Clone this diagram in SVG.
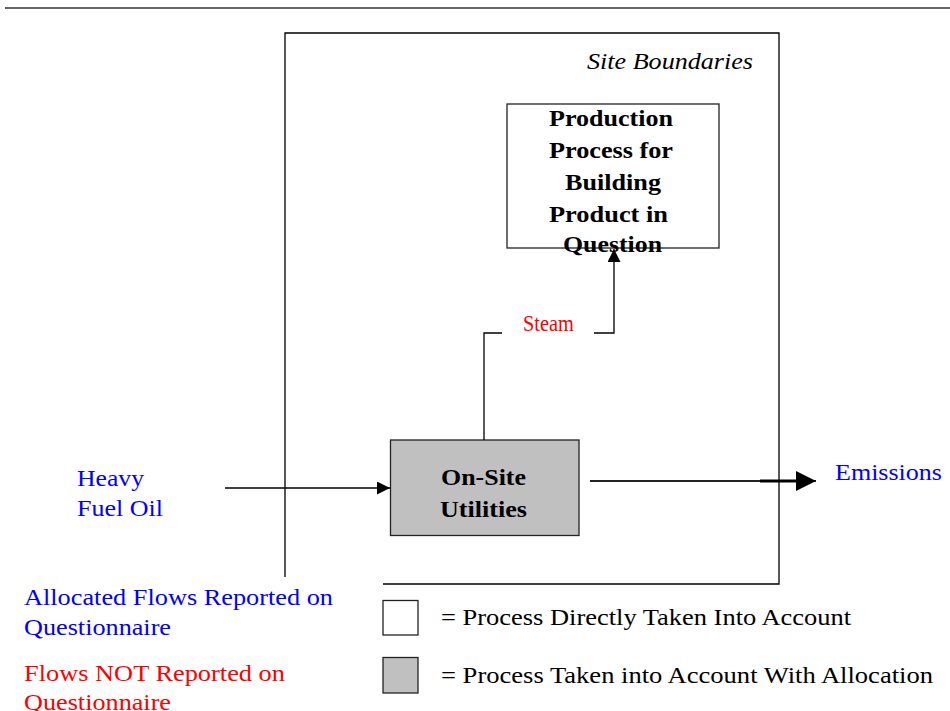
<svg xmlns="http://www.w3.org/2000/svg" width="950" height="711" viewBox="0 0 950 711">
<style>
text{font-family:"Liberation Serif","Times New Roman",serif;font-size:24px}
.b{font-weight:bold;fill:#000}
.blue{fill:#0000ff}
.red{fill:#ff0000}
.blk{fill:#000}
.ln{stroke:#000;stroke-width:1.3;fill:none}
.box{stroke:#222;stroke-width:1.3}
</style>
<defs>
<marker id="ah" viewBox="0 0 10 10" refX="10" refY="5" markerWidth="15" markerHeight="13" markerUnits="userSpaceOnUse" orient="auto"><path d="M0,0 L10,5 L0,10 Z" fill="#000"/></marker>
<marker id="ah2" viewBox="0 0 10 10" refX="10" refY="5" markerWidth="22" markerHeight="20" markerUnits="userSpaceOnUse" orient="auto"><path d="M0,0 L10,5 L0,10 Z" fill="#000"/></marker>
</defs>
<line x1="5" y1="8" x2="950" y2="8" stroke="#333" stroke-width="1.5"/>
<g id="site-boundary">
<path d="M285,577 V33 H779 V584 H383" class="ln"/>
<text x="587" y="69" font-style="italic" class="blk" textLength="166" lengthAdjust="spacingAndGlyphs">Site Boundaries</text>
</g>
<g id="production">
<rect x="507" y="104" width="212" height="144" fill="#fff" class="box"/>
<text class="b" x="549" y="126" textLength="124" lengthAdjust="spacingAndGlyphs">Production</text>
<text class="b" x="549" y="158" textLength="124" lengthAdjust="spacingAndGlyphs">Process for</text>
<text class="b" x="565" y="190" textLength="96" lengthAdjust="spacingAndGlyphs">Building</text>
<text class="b" x="549" y="222" textLength="119" lengthAdjust="spacingAndGlyphs">Product in</text>
<text class="b" x="563" y="252" textLength="99" lengthAdjust="spacingAndGlyphs">Question</text>
</g>
<g id="utilities">
<rect x="390.5" y="440" width="188.5" height="95.5" fill="#c0c0c0" class="box"/>
<text class="b" x="441" y="485" textLength="85" lengthAdjust="spacingAndGlyphs">On-Site</text>
<text class="b" x="440" y="517" textLength="87" lengthAdjust="spacingAndGlyphs">Utilities</text>
</g>
<g id="connectors">
<path d="M484,440 V333 H502" class="ln"/>
<path d="M594,333 H614 V249" class="ln" marker-end="url(#ah)"/>
<line x1="225" y1="488" x2="390" y2="488" class="ln" marker-end="url(#ah)"/>
<line x1="590" y1="481" x2="816" y2="481" stroke="#222" stroke-width="2" marker-end="url(#ah2)"/>
<line x1="760" y1="481" x2="800" y2="481" stroke="#000" stroke-width="3"/>
</g>
<g id="labels">
<text class="red" x="523" y="331" font-size="21" textLength="51" lengthAdjust="spacingAndGlyphs">Steam</text>
<text class="blue" x="77" y="486" textLength="67" lengthAdjust="spacingAndGlyphs">Heavy</text>
<text class="blue" x="77" y="516" textLength="86" lengthAdjust="spacingAndGlyphs">Fuel Oil</text>
<text class="blue" x="835" y="480" textLength="107" lengthAdjust="spacingAndGlyphs">Emissions</text>
</g>
<g id="legend">
<text class="blue" x="24" y="605" textLength="309" lengthAdjust="spacingAndGlyphs">Allocated Flows Reported on</text>
<text class="blue" x="24" y="635" textLength="147" lengthAdjust="spacingAndGlyphs">Questionnaire</text>
<text class="red" x="24" y="681" textLength="261" lengthAdjust="spacingAndGlyphs">Flows NOT Reported on</text>
<text class="red" x="24" y="710" textLength="147" lengthAdjust="spacingAndGlyphs">Questionnaire</text>
<rect x="383" y="600.5" width="35" height="34.5" fill="#fff" class="box"/>
<rect x="383" y="657.5" width="35" height="35.5" fill="#c0c0c0" class="box"/>
<text class="blk" x="441" y="625" textLength="410" lengthAdjust="spacingAndGlyphs">= Process Directly Taken Into Account</text>
<text class="blk" x="441" y="683" textLength="492" lengthAdjust="spacingAndGlyphs">= Process Taken into Account With Allocation</text>
</g>
</svg>
